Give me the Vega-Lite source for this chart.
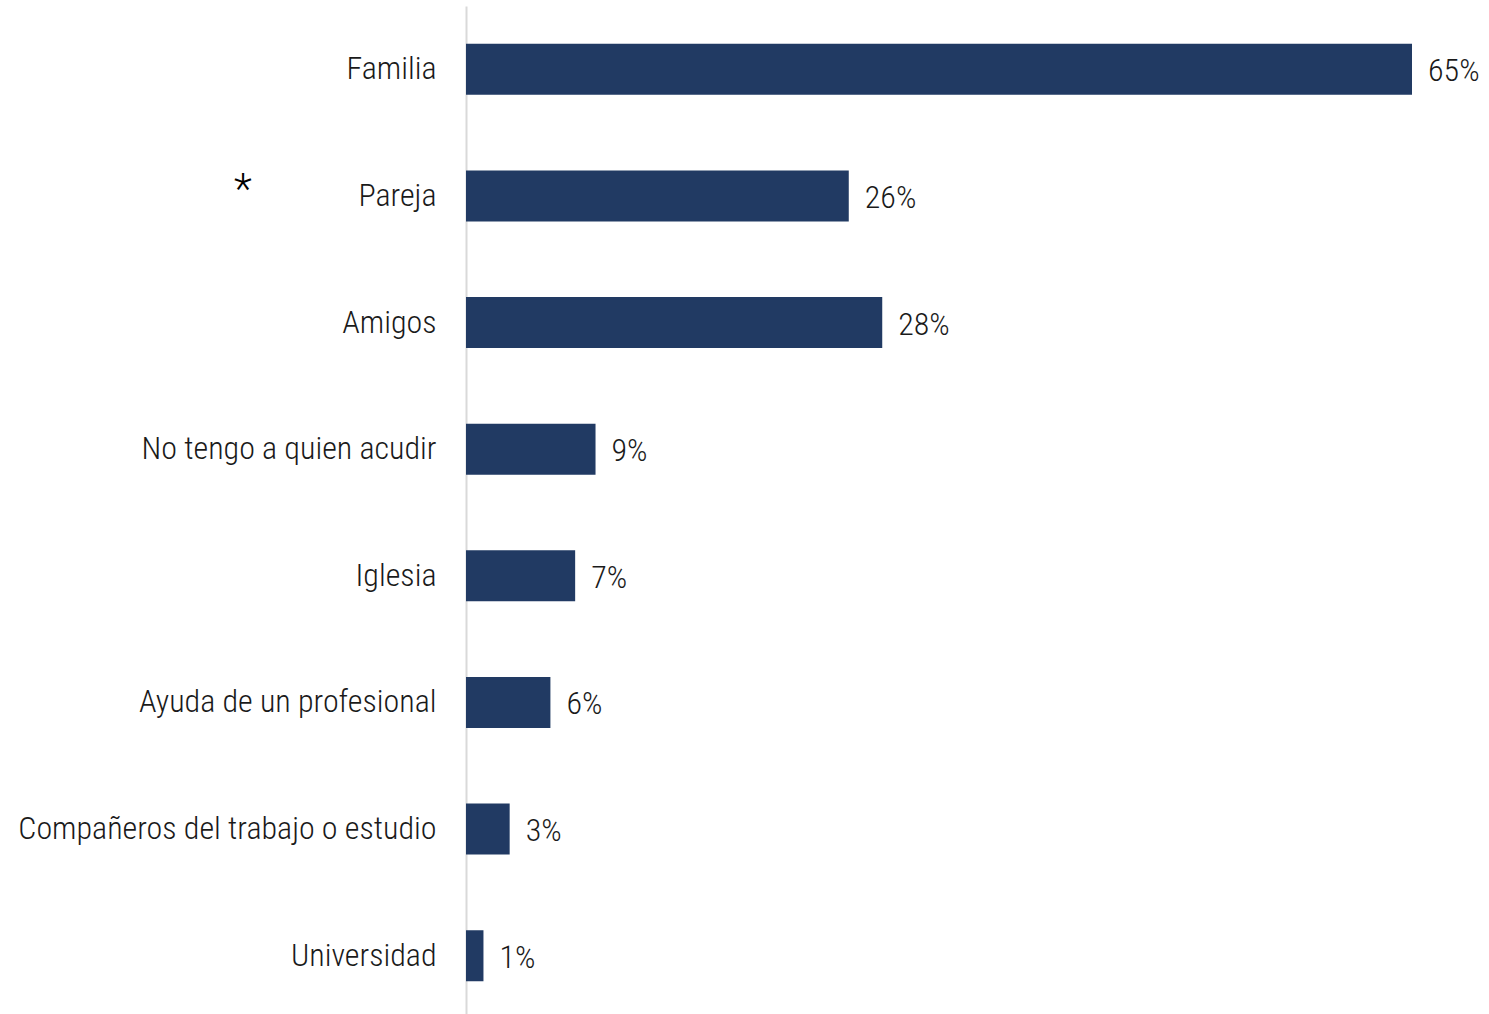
{
  "$schema": "https://vega.github.io/schema/vega-lite/v6.json",
  "autosize": {"type": "none"},
  "padding": {"left": 466, "top": 6, "right": 77, "bottom": 0},
  "width": 946,
  "height": 1013,
  "background": "white",
  "config": {
    "view": {"stroke": null},
    "font": "Roboto Condensed, Liberation Sans Narrow, Roboto",
    "text": {"font": "Roboto Condensed, Liberation Sans Narrow, Roboto"}
  },
  "data": {
    "values": [
      {"categoria": "Familia", "pct": 65.0, "etiqueta": "65%", "nota": ""},
      {"categoria": "Pareja", "pct": 26.3, "etiqueta": "26%", "nota": "*"},
      {"categoria": "Amigos", "pct": 28.6, "etiqueta": "28%", "nota": ""},
      {"categoria": "No tengo a quien acudir", "pct": 8.9, "etiqueta": "9%", "nota": ""},
      {"categoria": "Iglesia", "pct": 7.5, "etiqueta": "7%", "nota": ""},
      {"categoria": "Ayuda de un profesional", "pct": 5.8, "etiqueta": "6%", "nota": ""},
      {"categoria": "Compañeros del trabajo o estudio", "pct": 3.0, "etiqueta": "3%", "nota": ""},
      {"categoria": "Universidad", "pct": 1.2, "etiqueta": "1%", "nota": ""}
    ]
  },
  "encoding": {
    "y": {
      "field": "categoria",
      "type": "nominal",
      "sort": null,
      "scale": {"paddingInner": 0.597, "paddingOuter": 0.2985},
      "axis": {
        "title": null,
        "domain": true,
        "domainColor": "#d9d9d9",
        "domainWidth": 2,
        "ticks": false,
        "labelPadding": 30,
        "labelFont": "Roboto Condensed, Liberation Sans Narrow, Roboto",
        "labelFontWeight": 300,
        "labelFontSize": 32,
        "labelColor": "#1a1a1a",
        "labelLimit": 0
      }
    }
  },
  "layer": [
    {
      "mark": {"type": "bar", "color": "#213a63"},
      "encoding": {
        "x": {"field": "pct", "type": "quantitative", "scale": {"domain": [0, 65]}, "axis": null}
      }
    },
    {
      "mark": {"type": "text", "align": "left", "baseline": "middle", "dx": 16, "dy": 2, "fontSize": 32, "fontWeight": 300, "color": "#1a1a1a"},
      "encoding": {
        "x": {"field": "pct", "type": "quantitative"},
        "text": {"field": "etiqueta"}
      }
    },
    {
      "mark": {"type": "text", "align": "center", "baseline": "middle", "dx": -223, "dy": -6, "fontSize": 42, "fontWeight": 300, "color": "#000000", "font": "Roboto"},
      "encoding": {
        "x": {"datum": 0, "type": "quantitative"},
        "text": {"field": "nota"}
      }
    }
  ]
}
